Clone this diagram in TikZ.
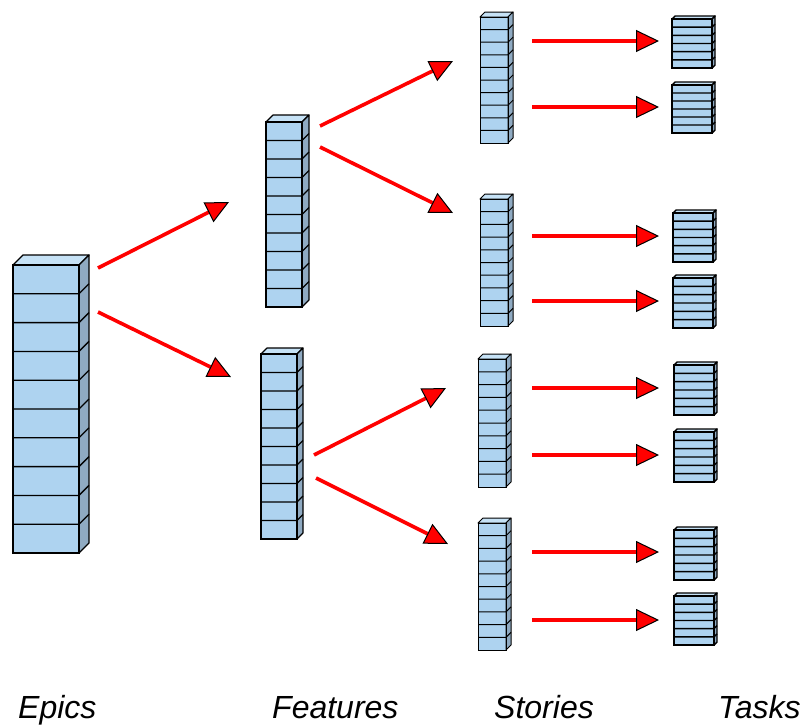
\documentclass[tikz,border=0pt]{standalone}
\usepackage{fontspec}
\setmainfont{Liberation Sans}
\usetikzlibrary{arrows.meta,calc}

\definecolor{blockfront}{HTML}{AED3F0}
\definecolor{blocktop}{HTML}{C6E2F6}
\definecolor{blockside}{HTML}{8FAAC2}

\tikzset{
  stack line/.style={line width=0.9pt},
  frontface/.style={draw=black, fill=blockfront, stack line, inner sep=0pt, outer sep=0pt, rectangle},
  topface/.style={draw=black, fill=blocktop, stack line, line join=round},
  sideface/.style={draw=black, fill=blockside, stack line, line join=round},
  divline/.style={draw=black, stack line},
  arr/.style={draw=red, line width=3.6pt,
    -{Triangle[length=23pt, width=22pt, fill=red, color=black, line width=1pt]}},
  caption/.style={font=\itshape\fontsize{32}{36}\selectfont, anchor=base west, inner sep=0pt}
}

% \blockstack{name}{left x}{top y}{width}{height}{layers}{depth}
\newcommand\blockstack[7]{%
  \node[frontface, minimum width=#4pt, minimum height=#5pt, anchor=north west] (#1) at (#2,#3) {};
  \filldraw[topface] (#1.north west) -- ++(#7,-#7) -- ++(#4,0) -- (#1.north east) -- cycle;
  \filldraw[sideface] (#1.north east) -- ++(#7,-#7) -- ++(0,#5) -- (#1.south east) -- cycle;
  \pgfmathtruncatemacro\nlast{#6-1}%
  \foreach \i in {1,...,\nlast}{%
    \pgfmathsetmacro\dy{\i*#5/#6}%
    \draw[divline] ($(#1.north west)+(0,\dy)$) -- ++(#4,0) -- ++(#7,-#7);
  }%
  \draw[stack line] (#1.north west) rectangle (#1.south east);
}

\begin{document}
\begin{tikzpicture}[x=1pt, y=-1pt]
\useasboundingbox (0,0) rectangle (805,724);

% epic
\begin{scope}[stack line/.style={line width=1.3pt}]
\blockstack{E}{13}{265}{66}{288}{10}{10}
\end{scope}

% features
\begin{scope}[stack line/.style={line width=1.1pt}]
\blockstack{F1}{266}{122}{36}{185}{10}{7}
\blockstack{F2}{261}{354}{36}{185}{10}{6}
\end{scope}

% stories
\begin{scope}[stack line/.style={line width=1pt}]
\blockstack{S1}{480}{17}{28}{126}{10}{5}
\blockstack{S2}{480}{199}{28}{127}{10}{5}
\blockstack{S3}{478}{359}{28}{128}{10}{5}
\blockstack{S4}{478}{523}{28}{127}{10}{5}
\end{scope}

% tasks
\begin{scope}[stack line/.style={line width=1.4pt}]
\blockstack{T1}{672}{19}{40}{49}{6}{3}
\blockstack{T2}{672}{85}{40}{48}{6}{3}
\blockstack{T3}{673}{213}{40}{49}{6}{3}
\blockstack{T4}{673}{278}{40}{50}{6}{3}
\blockstack{T5}{674}{365}{40}{50}{6}{3}
\blockstack{T6}{674}{432}{40}{50}{6}{3}
\blockstack{T7}{674}{530}{40}{50}{6}{3}
\blockstack{T8}{674}{596}{40}{49}{6}{3}
\end{scope}

% connector end points
\coordinate (e1) at (98,268);   \coordinate (f1in) at (229,202);
\coordinate (e2) at (98,312);   \coordinate (f2in) at (231,377);
\coordinate (f1a) at (320,126); \coordinate (s1in) at (453,61);
\coordinate (f1b) at (320,147); \coordinate (s2in) at (453,213);
\coordinate (f2a) at (314,455); \coordinate (s3in) at (446,388);
\coordinate (f2b) at (316,478); \coordinate (s4in) at (448,544);

\draw[arr] (e1) -- (f1in);
\draw[arr] (e2) -- (f2in);
\draw[arr] (f1a) -- (s1in);
\draw[arr] (f1b) -- (s2in);
\draw[arr] (f2a) -- (s3in);
\draw[arr] (f2b) -- (s4in);

% story to task arrows
\foreach \s/\t/\y in {S1/T1/41, S1/T2/107, S2/T3/236, S2/T4/301, S3/T5/388, S3/T6/455, S4/T7/552, S4/T8/620}{
  \coordinate (\s-\t-a) at (532,\y);
  \coordinate (\s-\t-b) at (659,\y);
  \draw[arr] (\s-\t-a) -- (\s-\t-b);
}

% column captions
\node[caption] (lepics) at (18,718) {Epics};
\node[caption] (lfeat) at (272,718) {Features};
\node[caption] (lstor) at (494,718) {Stories};
\node[caption] (ltask) at (718,718) {Tasks};
\end{tikzpicture}
\end{document}
